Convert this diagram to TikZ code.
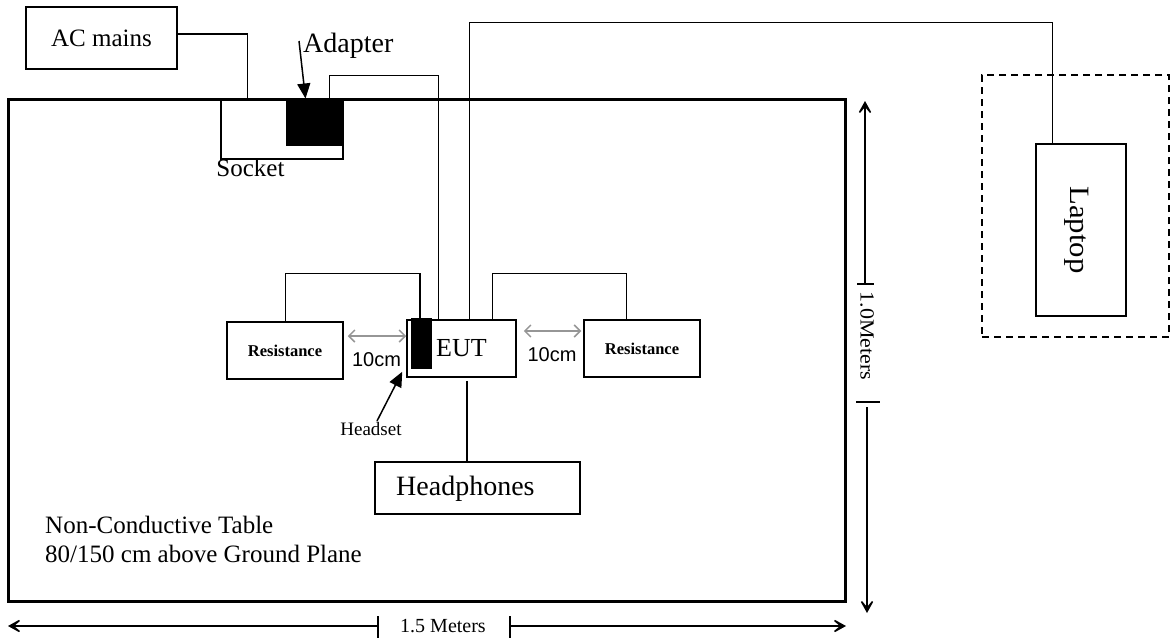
\documentclass[tikz,border=0pt]{standalone}
\usepackage{fontspec}
\setmainfont{Liberation Serif}
\newfontfamily\arialfont{Liberation Sans}
\usetikzlibrary{arrows.meta}
\tikzset{
  wire/.style={line width=1.5pt},
  box/.style={draw, line width=1.5pt, inner sep=0pt},
  blk/.style={draw, fill=black, line width=1pt, inner sep=0pt},
  lbl/.style={inner sep=0pt, font=\fontsize{25}{30}\selectfont},
  dimline/.style={line width=1.5pt},
  dimtip/.style={-{Stealth[length=18pt,width=20pt,inset=12pt]}},
  ptr/.style={line width=1.5pt, -{Triangle[length=15pt,width=13pt]}},
  grayarr/.style={line width=1.5pt, draw={rgb,255:red,150;green,150;blue,150}, {Straight Barb[length=6pt,width=12pt]}-{Straight Barb[length=6pt,width=12pt]}},
}
\begin{document}
\begin{tikzpicture}[x=1pt,y=-1pt]
\useasboundingbox (0,0) rectangle (1170,640);

% table
\node[draw, line width=3pt, minimum width=837, minimum height=502, inner sep=0pt] (table) at (426.5,350.5) {};
\node[lbl, anchor=base west] (tbl1) at (45,533) {Non-Conductive Table};
\node[lbl, anchor=base west] (tbl2) at (45,562) {80/150 cm above Ground Plane};

% AC mains, socket, adapter
\node[box, minimum width=151, minimum height=62, font=\fontsize{25}{30}\selectfont] (ac) at (101.5,38) {AC mains};
\node[box, minimum width=122, minimum height=60] (socket) at (282,129) {};
\node[blk, minimum width=57, minimum height=46] (adapter) at (314.5,122) {};
\node[lbl, anchor=base] (socketlbl) at (250.5,176) {Socket};
\node[lbl, anchor=base west, font=\fontsize{28}{32}\selectfont] (adapterlbl) at (303,52) {Adapter};
\coordinate (adtail) at (299,41);
\draw[ptr] (adtail) -- ([xshift=20]adapter.north west);

% EUT and resistances
\node[box, minimum width=109, minimum height=57, font=\fontsize{26}{30}\selectfont] (eut) at (461.5,348.5) {EUT};
\node[blk, minimum width=20, minimum height=50] (hs) at (421,343) {};
\node[box, minimum width=116, minimum height=57, font=\bfseries\fontsize{16.5}{20}\selectfont] (resL) at (285,350.5) {Resistance};
\node[box, minimum width=116, minimum height=57, font=\bfseries\fontsize{16.5}{20}\selectfont] (resR) at (642,348.5) {Resistance};

\draw[grayarr] ([xshift=4,yshift=14.5]resL.east) -- ([yshift=12.5]eut.west);
\draw[grayarr] ([xshift=7,yshift=17.5]eut.east) -- ([xshift=-2,yshift=17.5]resR.west);
\node[inner sep=0pt, anchor=base, font=\arialfont\fontsize{20}{24}\selectfont] (cmL) at (376.5,366) {10cm};
\node[inner sep=0pt, anchor=base, font=\arialfont\fontsize{20}{24}\selectfont] (cmR) at (552,361) {10cm};

\node[inner sep=0pt, anchor=base, font=\fontsize{19}{22}\selectfont] (hslbl) at (371,435) {Headset};
\coordinate (hstail) at (377,421);
\draw[ptr] (hstail) -- ([xshift=-4,yshift=6]eut.south west);

% headphones
\node[box, minimum width=205, minimum height=52] (hp) at (477.5,488) {};
\node[inner sep=0pt, anchor=base west, font=\fontsize{28}{32}\selectfont] (hplbl) at (396,495) {Headphones};

% laptop
\node[draw, dashed, dash pattern=on 7pt off 5pt, line width=1.5pt, minimum width=187, minimum height=262, inner sep=0pt] (zone) at (1075.5,206) {};
\node[box, minimum width=90, minimum height=172] (laptop) at (1081,230) {};
\node[inner sep=0pt, rotate=-90, xscale=1.1, font=\fontsize{28}{32}\selectfont] (laptoplbl) at (1077,230) {Laptop};

% wires
\draw[wire] ([yshift=4]ac.east) -| ([xshift=241]table.north west);
\draw[wire] ([xshift=15]adapter.north) -- ++(0,-23) -| ([xshift=32]eut.north west);
\draw[wire] ([xshift=63]eut.north west) -- ++(0,-297) -| ([xshift=17]laptop.north west);
\draw[wire] ([xshift=59]resL.north west) -- ++(0,-48) -| ([xshift=-1]hs.north);
\draw[wire] ([xshift=86]eut.north west) -- ++(0,-46) -| ([xshift=43]resR.north west);
\draw[wire] ([xshift=5.5,yshift=-3]eut.south) -- ([xshift=-10.5]hp.north);

% vertical dimension
\node[inner sep=0pt, rotate=-90, xscale=1.1, font=\fontsize{20}{24}\selectfont] (vlbl) at (867,336) {1.0Meters};
\coordinate (vt1) at (865,284);
\coordinate (vt1a) at (857,284);
\coordinate (vt1b) at (874,284);
\coordinate (vtop) at (865,101);
\coordinate (vt2) at (867,407);
\coordinate (vt2a) at (856,402);
\coordinate (vt2b) at (880,402);
\coordinate (vbot) at (867,613);
\draw[dimline, dimtip] (vt1) -- (vtop);
\draw[dimline] (vt1a) -- (vt1b);
\draw[dimline] (vt2a) -- (vt2b);
\draw[dimline, dimtip] (vt2) -- (vbot);

% horizontal dimension
\node[inner sep=0pt, font=\fontsize{20}{24}\selectfont] (hlbl) at (443,626) {1.5 Meters};
\coordinate (ht1) at (378,626);
\coordinate (ht1a) at (378,616);
\coordinate (ht1b) at (378,638);
\coordinate (hleft) at (8,626);
\coordinate (ht2) at (510,626);
\coordinate (ht2a) at (510,616);
\coordinate (ht2b) at (510,638);
\coordinate (hright) at (846,626);
\draw[dimline, dimtip] (ht1) -- (hleft);
\draw[dimline] (ht1a) -- (ht1b);
\draw[dimline] (ht2a) -- (ht2b);
\draw[dimline, dimtip] (ht2) -- (hright);
\end{tikzpicture}
\end{document}
